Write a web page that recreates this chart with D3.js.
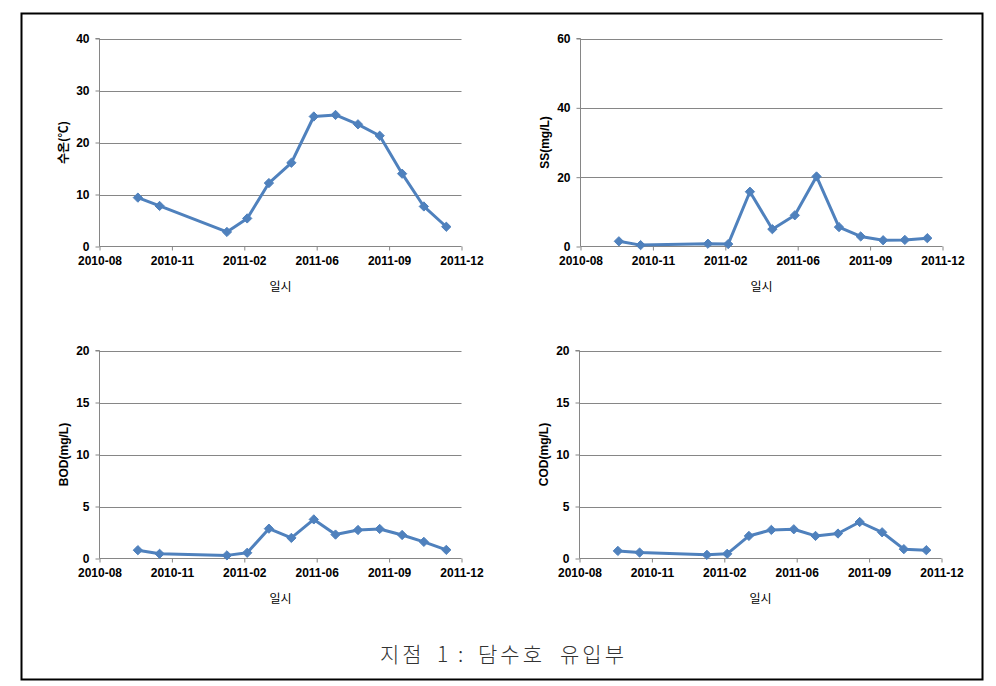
<!DOCTYPE html>
<html><head><meta charset="utf-8">
<script src="https://cdn.jsdelivr.net/npm/d3@7"></script>
<style>
body{margin:0;background:#fff;}
svg{display:block;}
</style></head>
<body>
<svg id="c" width="996" height="686"></svg>
<script>
const dates = ["2010-10-02","2010-11-01","2011-02-02","2011-03-02","2011-04-01","2011-05-02","2011-06-02","2011-07-02","2011-08-02","2011-09-01","2011-10-02","2011-11-01","2011-12-02"];
const tempValues = [9.4,7.8,2.8,5.4,12.2,16.1,25.0,25.3,23.5,21.3,14.0,7.7,3.8];
const ssValues = [1.5,0.4,0.8,0.7,15.8,5.0,9.0,20.2,5.6,2.9,1.8,1.9,2.4];
const bodValues = [0.8,0.45,0.3,0.55,2.87,1.98,3.76,2.3,2.74,2.84,2.26,1.6,0.83];
const codValues = [0.73,0.57,0.35,0.45,2.17,2.75,2.81,2.17,2.4,3.51,2.52,0.9,0.8];
const xTickDates = ["2010-08-10","2010-11-18","2011-02-26","2011-06-06","2011-09-14","2011-12-23"];
const yLabels = ["수온(℃)","SS(mg/L)","BOD(mg/L)","COD(mg/L)"];
const yMax = [40,60,20,20];
const yStep = [10,20,5,5];
const xTitle = "일시";
const captionWords = ["지점","1",":","담수호","유입부"];

const parse = d3.timeParse("%Y-%m-%d");
const svg = d3.select("#c");
const color = "#4F81BD";

// outer border
svg.append("rect").attr("x",21.5).attr("y",13.5).attr("width",961).attr("height",666)
  .attr("fill","none").attr("stroke","#000").attr("stroke-width",2);

const panels = [
  {x0:99.5,x1:461.5,y0:38.5,y1:246.5,vals:tempValues},
  {x0:580.5,x1:942.5,y0:38.5,y1:246.5,vals:ssValues},
  {x0:99.5,x1:461.5,y0:350.5,y1:558.5,vals:bodValues},
  {x0:579.5,x1:941.5,y0:350.5,y1:558.5,vals:codValues}
];

const tickFont = "'Liberation Sans', Arial, sans-serif";
panels.forEach((p,i)=>{
  const x = d3.scaleTime().domain([parse(xTickDates[0]), parse(xTickDates[xTickDates.length-1])]).range([p.x0,p.x1]);
  const y = d3.scaleLinear().domain([0,yMax[i]]).range([p.y1,p.y0]);
  const g = svg.append("g");
  const yt = d3.range(0,yMax[i]+0.001,yStep[i]);
  // gridlines
  g.selectAll(".grid").data(yt.filter(v=>v>0)).join("line")
    .attr("x1",p.x0).attr("x2",p.x1).attr("y1",d=>Math.round(y(d))+0.5).attr("y2",d=>Math.round(y(d))+0.5)
    .attr("stroke","#868686").attr("stroke-width",1);
  // y axis
  const ya = g.append("g").attr("transform",`translate(${p.x0},0)`)
    .call(d3.axisLeft(y).tickValues(yt).tickSize(4).tickPadding(6).tickFormat(d3.format("d")));
  ya.select(".domain").attr("stroke","#868686").attr("d",`M-4,${p.y0}H0V${p.y1}`);
  ya.selectAll(".tick line").attr("stroke","#868686");
  ya.selectAll("text").attr("font-family",tickFont).attr("font-size",12).attr("font-weight","bold").attr("fill","#000");
  // x axis
  const xa = g.append("g").attr("transform",`translate(0,${p.y1})`)
    .call(d3.axisBottom(x).tickValues(xTickDates.map(parse)).tickSize(4).tickPadding(6).tickFormat(d3.timeFormat("%Y-%m")));
  xa.select(".domain").attr("stroke","#868686").attr("d",`M${p.x0},0H${p.x1}`);
  xa.selectAll(".tick line").attr("stroke","#868686");
  xa.selectAll("text").attr("font-family",tickFont).attr("font-size",12).attr("font-weight","bold").attr("fill","#000");
  // titles
  g.append("text").attr("transform",`translate(${p.x0-35},${(p.y0+p.y1)/2}) rotate(-90)`)
    .attr("text-anchor","middle").attr("dominant-baseline","middle")
    .attr("font-family", i===0 ? "'Noto Sans CJK KR', sans-serif" : tickFont)
    .attr("font-size",12).attr("font-weight","bold").text(yLabels[i]);
  g.append("text").attr("x",(p.x0+p.x1)/2).attr("y",p.y1+41).attr("text-anchor","middle")
    .attr("dominant-baseline","middle").attr("font-family","'Noto Sans CJK KR', sans-serif")
    .attr("font-size",12).attr("fill","#000").text(xTitle);
  // line
  const data = dates.map((d,k)=>({d:parse(d),v:p.vals[k]}));
  g.append("path").datum(data).attr("fill","none").attr("stroke",color).attr("stroke-width",3)
    .attr("stroke-linejoin","round")
    .attr("d",d3.line().x(d=>x(d.d)).y(d=>y(d.v)));
  g.selectAll(".m").data(data).join("path")
    .attr("transform",d=>`translate(${x(d.d)},${y(d.v)})`)
    .attr("d",d3.symbol(d3.symbolDiamond2 || d3.symbolDiamond, 55))
    .attr("fill",color).attr("stroke",color).attr("stroke-width",1);
});

// caption with word positions matching the reference spacing
const capX = [380,437,458,478,560];
const cap = svg.append("text").attr("y",656).attr("dominant-baseline","middle")
  .attr("font-family","'Noto Sans CJK KR', sans-serif").attr("font-weight",300).attr("font-size",21)
  .attr("letter-spacing",3).attr("fill","#333");
cap.selectAll("tspan").data(captionWords).join("tspan")
  .attr("x",(d,k)=>capX[k]).text(d=>d);
</script>
</body></html>
